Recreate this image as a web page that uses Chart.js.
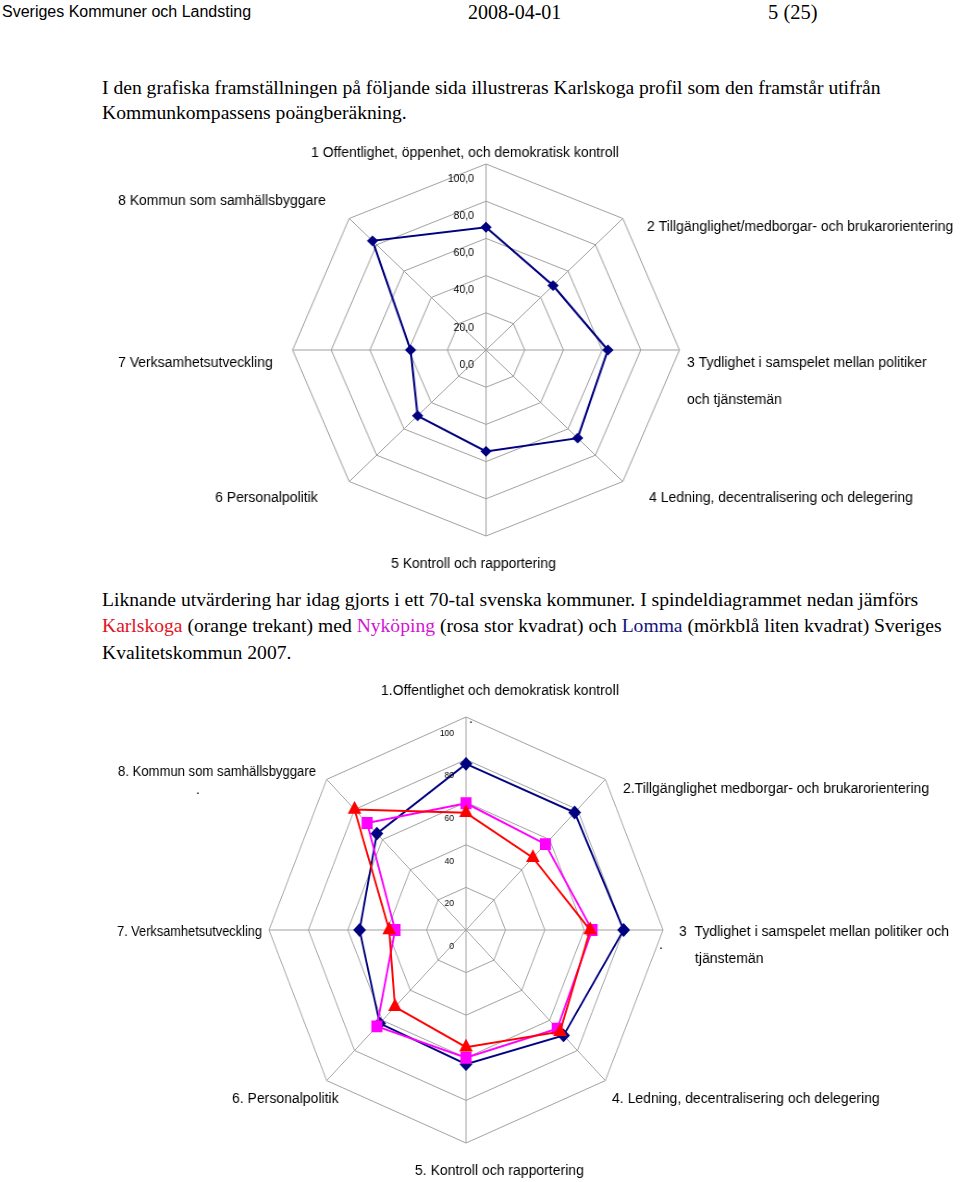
<!DOCTYPE html>
<html><head><meta charset="utf-8">
<script src="https://cdn.jsdelivr.net/npm/chart.js@4.4.1/dist/chart.umd.min.js"></script>
<style>
body{margin:0;background:#fff;}
#page{position:relative;width:960px;height:1182px;overflow:hidden;background:#fff;}
.t{position:absolute;white-space:nowrap;color:#000;}
.sans{font-family:"Liberation Sans",Arial,sans-serif;}
.serif{font-family:"Liberation Serif","Times New Roman",serif;}
canvas{position:absolute;left:0;}
</style></head>
<body><div id="page">
<div class="t sans" style="left:2px;top:2px;font-size:16px;line-height:20px">Sveriges Kommuner och Landsting</div>
<div class="t serif" style="left:468px;top:1px;font-size:20px;line-height:22px">2008-04-01</div>
<div class="t serif" style="left:768px;top:1px;font-size:20.5px;line-height:22px">5 (25)</div>
<div class="t serif" style="left:102px;top:74.5px;font-size:19.6px;line-height:25px">I den grafiska framställningen på följande sida illustreras Karlskoga profil som den framstår utifrån<br>Kommunkompassens poängberäkning.</div>
<canvas id="c1" width="960" height="440" style="top:140px;transform-origin:486px 0;transform:scaleX(1.04)"></canvas>
<div class="t serif" style="left:102px;top:586.75px;font-size:19.6px;line-height:26.5px">Liknande utvärdering har idag gjorts i ett 70-tal svenska kommuner. I spindeldiagrammet nedan jämförs<br><span style="color:#e0141e">Karlskoga</span> (orange trekant) med <span style="color:#d414d4">Nyköping</span> (rosa stor kvadrat) och <span style="color:#14147a">Lomma</span> (mörkblå liten kvadrat) Sveriges<br>Kvalitetskommun 2007.</div>
<canvas id="c2" width="1040" height="502" style="top:680px;transform-origin:466px 0;transform:scaleX(0.925)"></canvas>
</div>
<script>
// ---- Chart 1: Karlskoga profil ----
const categories1 = [
  '1 Offentlighet, öppenhet, och demokratisk kontroll',
  '2 Tillgänglighet/medborgar- och brukarorientering',
  ['3 Tydlighet i samspelet mellan politiker', 'och tjänstemän'],
  '4 Ledning, decentralisering och delegering',
  '5 Kontroll och rapportering',
  '6 Personalpolitik',
  '7 Verksamhetsutveckling',
  '8 Kommun som samhällsbyggare'
];
const karlskogaProfil = [66, 49, 63, 67, 54.5, 50, 39, 83];
const tickLabels1 = ['0,0', '20,0', '40,0', '60,0', '80,0', '100,0'];

// ---- Chart 2: Karlskoga / Nyköping / Lomma ----
const categories2 = [
  '1.Offentlighet och demokratisk kontroll',
  '2.Tillgänglighet medborgar- och brukarorientering',
  ['3  Tydlighet i samspelet mellan politiker och', 'tjänstemän'],
  '4. Ledning, decentralisering och delegering',
  '5. Kontroll och rapportering',
  '6. Personalpolitik',
  '7. Verksamhetsutveckling',
  '8. Kommun som samhällsbyggare'
];
const karlskoga = [55, 48, 63, 67.5, 55, 51, 39, 80];
const nykoping = [59.5, 57, 64, 65.5, 60, 64, 36, 71];
const lomma = [78, 78, 80, 70, 63, 62, 54, 64];
const tickLabels2 = ['0', '20', '40', '60', '80', '100'];

const pagePlugin = {
  id: 'pageText',
  afterDraw(chart, args, o) {
    const ctx = chart.ctx, s = chart.scales.r;
    const toX = px => o.originX + (px - o.originX) / o.sx;
    const put = (txt, px, py, align, font, maxW) => {
      ctx.save();
      ctx.translate(toX(px), py - o.top);
      ctx.scale(1 / o.sx, 1);
      ctx.font = font; ctx.fillStyle = '#000';
      ctx.textAlign = align; ctx.textBaseline = 'middle';
      if (maxW) ctx.fillText(txt, 0, 0, maxW); else ctx.fillText(txt, 0, 0);
      ctx.restore();
    };
    s.ticks.forEach((t, i) => {
      const d = s.getDistanceFromCenterForValue(t.value);
      const y = s.yCenter - d + o.top + o.tickDy;
      put(o.tickLabels[i], o.originX - o.tickDx, y, 'right', o.tickFont);
    });
    chart.data.labels.forEach((lab, i) => {
      const lines = Array.isArray(lab) ? lab : [lab];
      const pos = o.labelPos[i];
      lines.forEach((ln, j) => put(ln, pos[j][0], pos[j][1], 'left', o.labelFont, pos[j][2]));
    });
    (o.extras || []).forEach(e => put(e[0], e[1], e[2], 'left', o.labelFont));
  }
};

const GRID = '#a0a0a0';
function makeChart(id, labels, datasets, padding, text) {
  return new Chart(document.getElementById(id), {
    type: 'radar',
    data: { labels, datasets },
    options: {
      responsive: false, animation: false, devicePixelRatio: 1,
      layout: { padding },
      plugins: { legend: { display: false }, tooltip: { enabled: false }, pageText: text },
      elements: { line: { tension: 0, borderWidth: 2, fill: false } },
      scales: {
        r: {
          min: 0, max: 100,
          ticks: { stepSize: 20, display: false },
          pointLabels: { display: false },
          grid: { circular: false, color: GRID, lineWidth: 1 },
          angleLines: { color: GRID, lineWidth: 1 }
        }
      }
    },
    plugins: [pagePlugin]
  });
}

const LF = '14px "Liberation Sans", Arial, sans-serif';

makeChart('c1', categories1, [
  { label: 'Karlskoga', data: karlskogaProfil, borderColor: '#000080', backgroundColor: '#000080',
    pointStyle: 'rectRot', pointRadius: 4, borderWidth: 2 }
], { left: 300, right: 288, top: 24, bottom: 44 }, {
  originX: 486, sx: 1.04, top: 140, tickDx: 12, tickDy: 15,
  tickLabels: tickLabels1, tickFont: '10.5px "Liberation Sans", Arial, sans-serif', labelFont: LF,
  labelPos: [
    [[311, 153]], [[647, 227]], [[687, 363], [687, 400]], [[649, 498]],
    [[391, 564]], [[215, 498]], [[118, 363]], [[118, 201]]
  ]
});

makeChart('c2', categories2, [
  { label: 'Karlskoga', data: karlskoga, borderColor: '#ff0000', backgroundColor: '#ff0000',
    pointStyle: 'triangle', pointRadius: 6.5, borderWidth: 2 },
  { label: 'Nyköping', data: nykoping, borderColor: '#ff00ff', backgroundColor: '#ff00ff',
    pointStyle: 'rect', pointRadius: 7, borderWidth: 2 },
  { label: 'Lomma', data: lomma, borderColor: '#000080', backgroundColor: '#000080',
    pointStyle: 'rectRot', pointRadius: 5.5, borderWidth: 2 }
], { left: 253, right: 361, top: 37, bottom: 39 }, {
  originX: 466, sx: 0.925, top: 680, tickDx: 12, tickDy: 16.5,
  tickLabels: tickLabels2, tickFont: '8.5px "Liberation Sans", Arial, sans-serif', labelFont: LF,
  labelPos: [
    [[381, 691]], [[623, 789, 311]], [[679, 932, 274], [695, 959]], [[612, 1099]],
    [[415, 1171]], [[232, 1099]], [[117, 932, 145]], [[118, 772, 198]]
  ],
  extras: [['.', 196, 790], ['.', 659, 945], ['.', 469, 719]]
});
</script>
</body></html>
